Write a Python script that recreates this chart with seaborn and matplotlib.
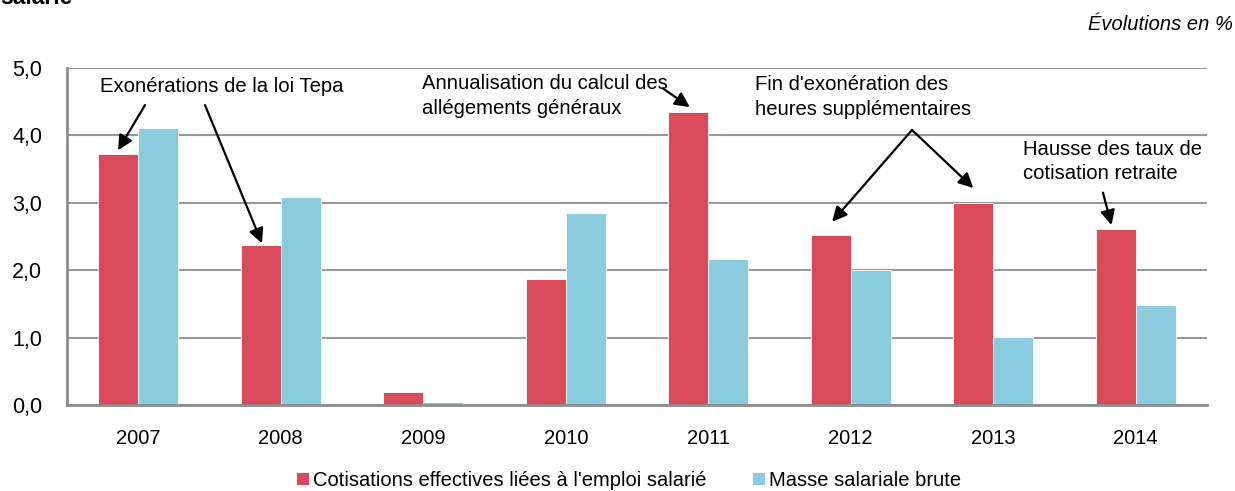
import matplotlib
matplotlib.use("Agg")
import matplotlib.pyplot as plt
import seaborn as sns
import pandas as pd

years = ["2007", "2008", "2009", "2010", "2011", "2012", "2013", "2014"]
cotisations = [3.72, 2.37, 0.19, 1.87, 4.35, 2.52, 3.00, 2.61]
masse_salariale = [4.11, 3.09, 0.04, 2.85, 2.17, 2.00, 1.01, 1.48]
series_names = ["Cotisations effectives liées à l'emploi salarié", "Masse salariale brute"]
yticks = [0, 1, 2, 3, 4, 5]
ytick_labels = ["0,0", "1,0", "2,0", "3,0", "4,0", "5,0"]

red = "#D94B5A"
cyan = "#8ACCDD"
grey = "#8C8C8C"

df = pd.DataFrame({
    "annee": years * 2,
    "serie": [series_names[0]] * len(years) + [series_names[1]] * len(years),
    "valeur": cotisations + masse_salariale,
})

sns.set_style("white")
plt.rcParams["font.family"] = ["Liberation Sans", "DejaVu Sans"]
plt.rcParams["text.color"] = "black"

fig = plt.figure(figsize=(12.35, 4.91), dpi=100)
ax = fig.add_axes([0.0543, 0.1752, 0.9773 - 0.0543, 0.8615 - 0.1752])

sns.barplot(data=df, x="annee", y="valeur", hue="serie", palette=[red, cyan],
            width=0.56, saturation=1, edgecolor="white", linewidth=0.6, ax=ax)

ax.set_ylim(0, 5)
ax.set_xlim(-0.5, len(years) - 0.5)
ax.set_yticks(yticks)
ax.set_yticklabels(ytick_labels, fontsize=15.5, color="black")
ax.set_xticks(range(len(years)))
ax.set_xticklabels(years, fontsize=14.5, color="black")
ax.set_xticks([i - 0.5 for i in range(len(years) + 1)], minor=True)
ax.tick_params(axis="x", which="major", length=0, pad=17)
ax.tick_params(axis="x", which="minor", length=8, width=2, color=grey, direction="out")
ax.tick_params(axis="y", length=7, width=2, color=grey, pad=11)
ax.set_xlabel("")
ax.set_ylabel("")

ax.yaxis.grid(True, color="#999999", lw=1.5)
ax.set_axisbelow(True)
for s in ["top", "right"]:
    ax.spines[s].set_visible(False)
for s in ["left", "bottom"]:
    ax.spines[s].set_color(grey)
    ax.spines[s].set_linewidth(2)

handles, labels = ax.get_legend_handles_labels()
ax.get_legend().remove()
fig.legend(handles, labels, loc="center", bbox_to_anchor=(0.509, 0.022), ncol=2,
           frameon=False, fontsize=14.5, handlelength=0.62, handleheight=0.62,
           handletextpad=0.2, columnspacing=2.3)

arrow = dict(arrowstyle="-|>", color="black", lw=1.6, mutation_scale=22,
             shrinkA=0, shrinkB=0)
fs = 14.6

ax.text(0.588, 4.73, "Exonérations de la loi Tepa", ha="center", va="center", fontsize=fs)
ax.annotate("", xy=(-0.142, 3.78), xytext=(0.047, 4.45), arrowprops=arrow)
ax.annotate("", xy=(0.868, 2.40), xytext=(0.468, 4.45), arrowprops=arrow)

ax.text(1.99, 4.585, "Annualisation du calcul des\nallégements généraux", ha="left",
        va="center", fontsize=fs, linespacing=1.38)
ax.annotate("", xy=(3.87, 4.42), xytext=(3.68, 4.70), arrowprops=arrow)

ax.text(4.33, 4.57, "Fin d'exonération des\nheures supplémentaires", ha="left",
        va="center", fontsize=fs, linespacing=1.43)
ax.annotate("", xy=(4.87, 2.72), xytext=(5.43, 4.08), arrowprops=arrow)
ax.annotate("", xy=(5.86, 3.22), xytext=(5.43, 4.08), arrowprops=arrow)

ax.text(6.21, 3.61, "Hausse des taux de\ncotisation retraite", ha="left",
        va="center", fontsize=fs, linespacing=1.33)
ax.annotate("", xy=(6.83, 2.67), xytext=(6.77, 3.15), arrowprops=arrow)

fig.text(0.998, 1 - 25 / 491, "Évolutions en %", ha="right", va="center",
         fontsize=14.5, style="italic")
# title line above the chart is cut by the frame, only its last word shows
fig.text(0.0, 1 - 4 / 491, "salarié", ha="left", va="baseline", fontsize=16.5,
         fontweight="bold")

fig.savefig("out.png", dpi=100)
